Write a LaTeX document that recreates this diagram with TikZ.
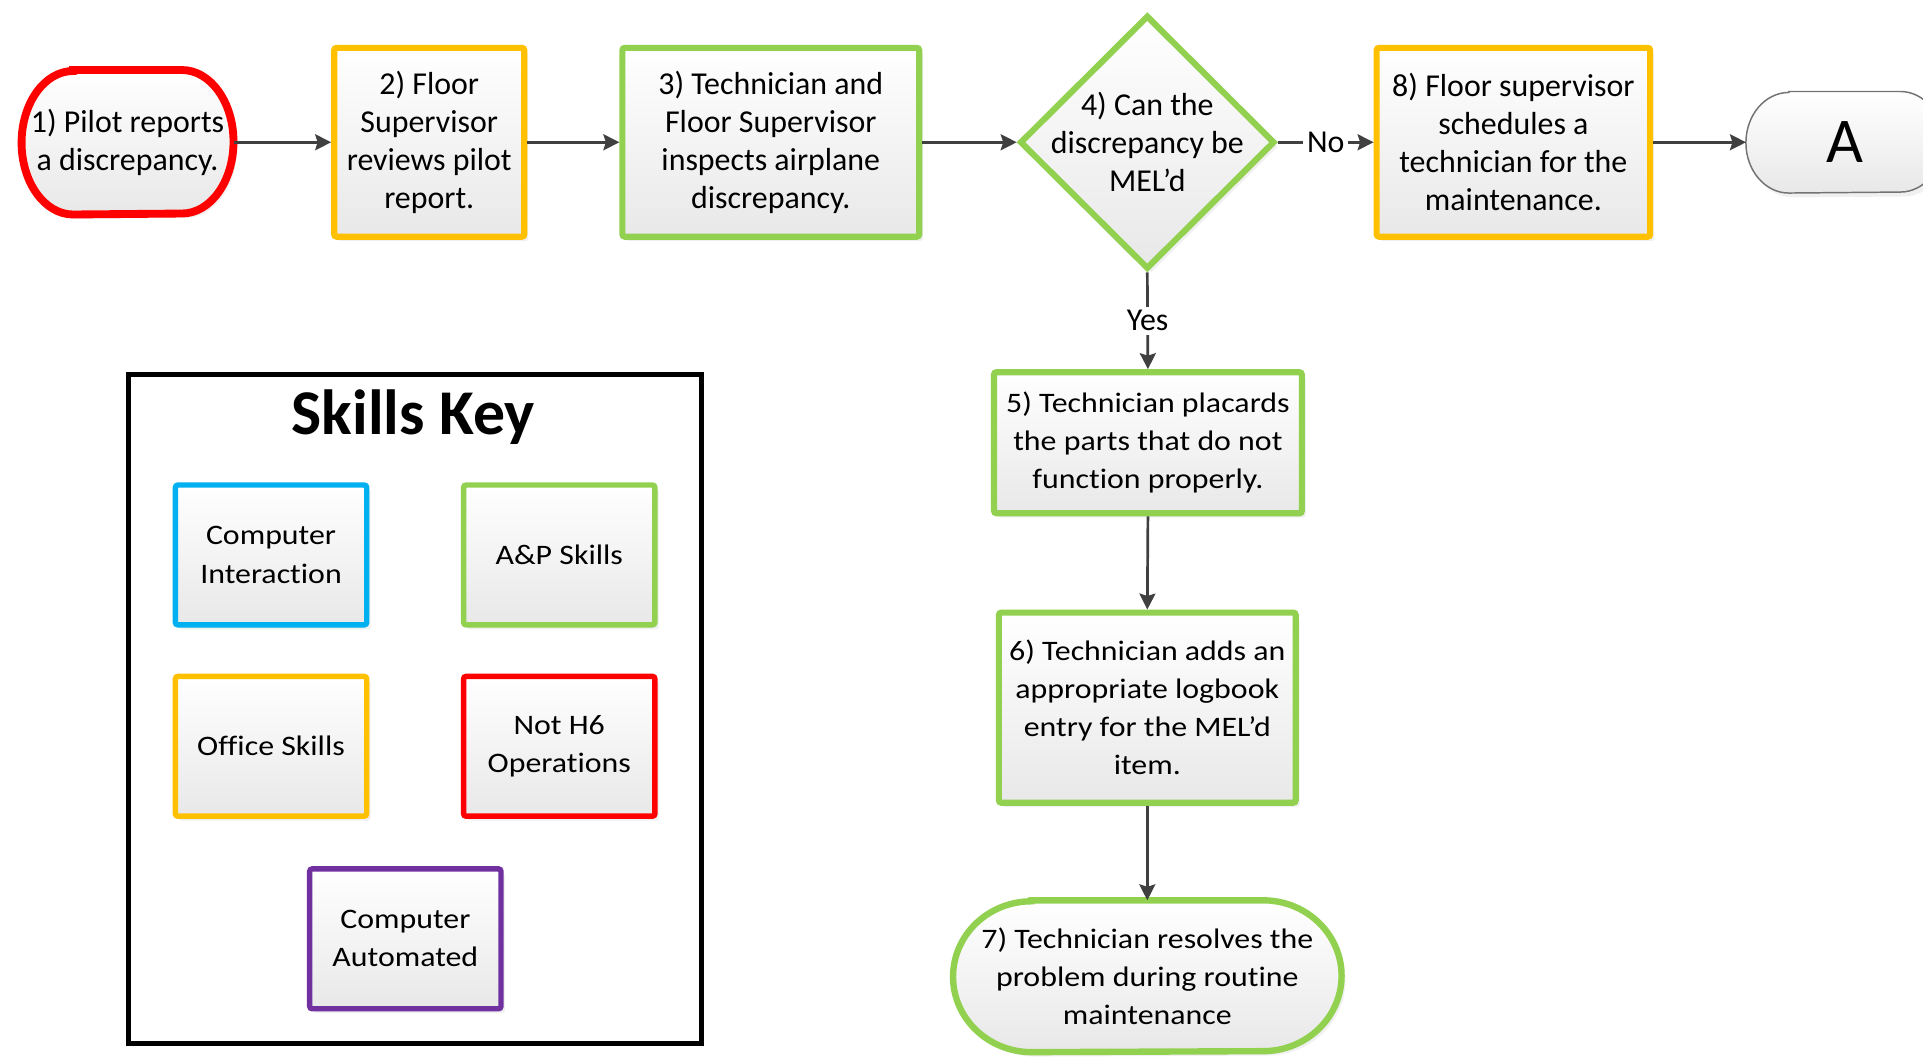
\documentclass[tikz,border=0pt]{standalone}
\usepackage{fontspec}
\setmainfont[RawFeature={-liga;-clig;-calt;-rlig;-dlig;-hlig}]{Carlito}
\newfontfamily\widefont[FakeStretch=1.13, RawFeature={-liga;-clig;-calt;-rlig;-dlig;-hlig}]{Carlito}
\usetikzlibrary{shapes.geometric,arrows.meta,shadows,backgrounds,calc}

\definecolor{cred}{HTML}{FF0000}
\definecolor{corange}{HTML}{FFC000}
\definecolor{cgreen}{HTML}{92D050}
\definecolor{cblue}{HTML}{00B0F0}
\definecolor{cpurple}{HTML}{7030A0}
\definecolor{arrowgray}{HTML}{404040}

\tikzset{
  boxfill/.style={top color=white, bottom color=black!9,
    drop shadow={shadow xshift=1.6pt, shadow yshift=-1.8pt, fill=black!11}},
  uptext/.style={font=\fontsize{13}{15.5}\selectfont, align=center},
  lowtext/.style={font=\widefont\fontsize{11.5}{15.5}\selectfont, align=center},
  procbox/.style={rectangle, rounded corners=1pt, draw=#1, line width=2.5pt,
    boxfill, inner sep=0pt},
  keybox/.style={rectangle, rounded corners=1pt, draw=#1, line width=2.2pt,
    boxfill, inner sep=0pt, minimum width=78pt, minimum height=57pt, lowtext},
  termtext/.style={rectangle, inner sep=0pt},
  flow/.style={draw=arrowgray, line width=1.1pt,
    -{Stealth[length=6.5pt,width=6.5pt,inset=1pt]}},
  flowlabel/.style={fill=white, inner sep=1.5pt, uptext},
}

% outline of a terminator: flat top and bottom, elliptic ends
\newcommand{\termoutline}[5]{%
  \path[draw=#4, line width=#5, boxfill]
    ($(#1.north west)+(#2,0pt)$) -- ($(#1.north east)+(-#2,0pt)$)
    arc[start angle=90, end angle=-90, x radius=#2, y radius=#3]
    -- ($(#1.south west)+(#2,0pt)$)
    arc[start angle=270, end angle=90, x radius=#2, y radius=#3] -- cycle;}

\begin{document}
\begin{tikzpicture}[x=0.5pt, y=-0.5pt]
\useasboundingbox (0,0) rectangle (1568,862);
\begin{scope}[on background layer]
  \fill[white] (0,0) rectangle (1568,862);
\end{scope}

% main flow, top row
\node[termtext, uptext, minimum width=86pt, minimum height=58.5pt] (n1) at (104,116)
  {1) Pilot reports\\a discrepancy.};
\node[procbox=corange, uptext, minimum width=77.5pt, minimum height=77pt] (n2) at (350,116)
  {2) Floor\\Supervisor\\reviews pilot\\report.};
\node[procbox=cgreen, uptext, minimum width=121pt, minimum height=77pt] (n3) at (628.5,116)
  {3) Technician and\\Floor Supervisor\\inspects airplane\\discrepancy.};
\node[diamond, draw=cgreen, line width=2.5pt, boxfill, inner sep=0pt,
      minimum width=104pt, minimum height=103.5pt,
      label={[uptext, name=n4text]center:{4) Can the\\discrepancy be\\MEL’d}}] (n4) at (935.5,116) {};
\node[procbox=corange, uptext, minimum width=111.5pt, minimum height=77pt] (n8) at (1234,116)
  {8) Floor supervisor\\schedules a\\technician for the\\maintenance.};
\node[termtext, font=\fontsize{26}{30}\selectfont, minimum width=80pt, minimum height=41pt] (na) at (1504,116) {A};

% main flow, downward branch
\node[procbox=cgreen, lowtext, minimum width=125.5pt, minimum height=57.5pt] (n5) at (936,361)
  {5) Technician placards\\the parts that do not\\function properly.};
\node[procbox=cgreen, lowtext, minimum width=121pt, minimum height=77.5pt] (n6) at (935.5,577)
  {6) Technician adds an\\appropriate logbook\\entry for the MEL’d\\item.};
\node[termtext, lowtext, minimum width=158pt, minimum height=61.5pt] (n7) at (935.5,796)
  {7) Technician resolves the\\problem during routine\\maintenance};

\begin{scope}[on background layer]
  \termoutline{n1}{21pt}{29.25pt}{cred}{3.2pt}
  \termoutline{n7}{32pt}{30.75pt}{cgreen}{2.6pt}
  \termoutline{na}{17.5pt}{20.5pt}{black!55}{0.6pt}
\end{scope}

% connectors
\draw[flow] (n1.east) -- (n2.west);
\draw[flow] (n2.east) -- (n3.west);
\draw[flow] (n3.east) -- (n4.west);
\draw[flow] (n4.east) -- node[flowlabel] {No} (n8.west);
\draw[flow] (n8.east) -- (na.west);
\draw[flow] (n4.south) -- node[flowlabel] {Yes} (n5.north);
\draw[flow] (n5.south) -- (n6.north);
\draw[flow] (n6.south) -- (n7.north);

% skills key
\node[draw=black, line width=2pt, minimum width=233.5pt, minimum height=273pt, inner sep=0pt]
  (keyframe) at (338.5,578) {};
\node[font=\bfseries\fontsize{26}{30}\selectfont] (keytitle) at (337,340) {Skills Key};
\node[keybox=cblue] (kci) at (221,452.5) {Computer\\Interaction};
\node[keybox=cgreen] (kap) at (456,452.5) {A\&P Skills};
\node[keybox=corange] (kos) at (221,608.5) {Office Skills};
\node[keybox=cred] (knh) at (456,608.5) {Not H6\\Operations};
\node[keybox=cpurple] (kca) at (330.5,765.5) {Computer\\Automated};
\end{tikzpicture}
\end{document}
